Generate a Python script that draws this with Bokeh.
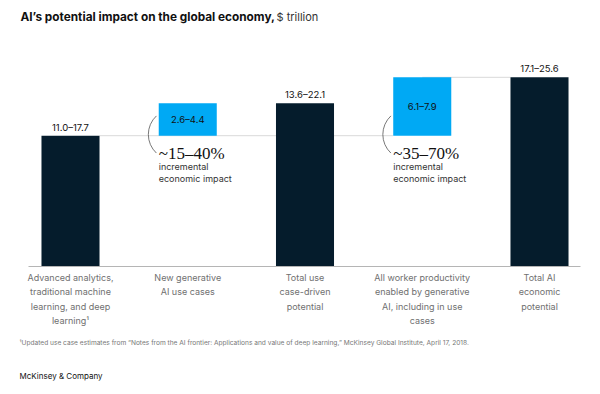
from bokeh.plotting import figure
from bokeh.models import Range1d
from bokeh.core.properties import value
from bokeh.embed import file_html
from bokeh.resources import INLINE

# ---- data ----
categories = ["Advanced analytics,\ntraditional machine\nlearning, and deep\nlearning¹",
              "New generative\nAI use cases",
              "Total use\ncase-driven\npotential",
              "All worker productivity\nenabled by generative\nAI, including in use\ncases",
              "Total AI\neconomic\npotential"]
low = [11.0, 2.6, 13.6, 6.1, 17.1]
high = [17.7, 4.4, 22.1, 7.9, 25.6]
bottoms = [0, 17.7, 0, 17.7, 0]
kinds = ["total", "increment", "total", "increment", "total"]
impacts = ["~15–40%", "~35–70%"]
impact_bars = [1, 3]

DARK = "#051c2c"
BLUE = "#00a9f4"
SANS = "Inter"

# pixel <-> data helpers (target picture pixel coordinates)
def xd(px):
    return (px - 70) / 117.25

def yd(py):
    return (266 - py) / 7.39

p = figure(width=592, height=386, x_range=Range1d(xd(0), xd(592)),
           y_range=Range1d(yd(386), yd(0)), min_border=0,
           toolbar_location=None, output_backend="svg",
           x_axis_location=None, y_axis_location=None)
p.grid.visible = False
p.outline_line_color = None
p.background_fill_color = "white"

xs = list(range(len(categories)))
tops = [b + h for b, h in zip(bottoms, high)]
W = 0.495
colors = [DARK if k == "total" else BLUE for k in kinds]

# connector lines
seg_x0 = [xs[0] + W / 2, xs[3]]
seg_x1 = [xs[3] - W / 2, xs[4] - W / 2]
seg_y = [tops[0], tops[3]]
p.segment(x0=seg_x0, y0=seg_y, x1=seg_x1, y1=seg_y, line_color="#d9d9d9", line_width=1)

p.vbar(x=xs, bottom=bottoms, top=tops, width=W, fill_color=colors, line_color=None)

# baseline
p.segment(x0=[xd(28)], y0=[0], x1=[xd(580)], y1=[0], line_color="#b5b5b5", line_width=1)

# value labels
labels = [f"{l:.1f}–{h:.1f}" for l, h in zip(low, high)]
tx = [xs[i] for i in range(5) if kinds[i] == "total"]
ty = [tops[i] for i in range(5) if kinds[i] == "total"]
tl = [labels[i] for i in range(5) if kinds[i] == "total"]
p.text(x=tx, y=ty, text=tl, text_align="center", text_baseline="bottom", y_offset=-3,
       text_font=value(SANS), text_font_size="9.5px", text_color="#111111")
ix = [xs[i] for i in range(5) if kinds[i] != "total"]
iy = [(bottoms[i] + tops[i]) / 2 for i in range(5) if kinds[i] != "total"]
il = [labels[i] for i in range(5) if kinds[i] != "total"]
p.text(x=ix, y=iy, text=il, text_align="center", text_baseline="middle",
       text_font=value(SANS), text_font_size="9.5px", text_color="#111111")

# category labels
p.text(x=xs, y=[yd(271)] * 5, text=categories, text_align="center", text_baseline="top",
       text_font=value(SANS), text_font_size="9px", text_color="#707070", text_line_height=1.33)

# impact annotations
ax = [xs[i] - W / 2 for i in impact_bars]
p.text(x=ax, y=[yd(153)] * 2, text=impacts, text_align="left", text_baseline="middle",
       text_font=value("Liberation Serif"), text_font_size="17px", text_color="#111111")
p.text(x=ax, y=[yd(166)] * 2, text=["incremental"] * 2, text_align="left", text_baseline="middle",
       text_font=value(SANS), text_font_size="9px", text_color="#333333")
p.text(x=ax, y=[yd(178)] * 2, text=["economic impact"] * 2, text_align="left", text_baseline="middle",
       text_font=value(SANS), text_font_size="9px", text_color="#333333")
arc_cx = [a + 15 / 117.25 for a in ax]
p.arc(x=arc_cx, y=[yd(134)] * 2, radius=25.4, radius_units="screen",
      start_angle=2.32, end_angle=3.96, direction="anticlock",
      line_color="#555555", line_width=0.8)

# title
p.text(x=[xd(20)], y=[yd(16)], text=["AI’s potential impact on the global economy,"],
       text_align="left", text_baseline="middle", text_font=value(SANS),
       text_font_size="11.8px", text_font_style="bold", text_color="#111111")
p.text(x=[xd(276)], y=[yd(16)], text=["$ trillion"],
       text_align="left", text_baseline="middle", text_font=value(SANS),
       text_font_size="11px", text_color="#333333")

# footnote and source
p.text(x=[xd(19)], y=[yd(342)],
       text=["¹Updated use case estimates from “Notes from the AI frontier: Applications and value of deep learning,” McKinsey Global Institute, April 17, 2018."],
       text_align="left", text_baseline="middle", text_font=value(SANS),
       text_font_size="6.6px", text_color="#777777")
p.text(x=[xd(19)], y=[yd(375)], text=["McKinsey & Company"],
       text_align="left", text_baseline="middle", text_font=value(SANS),
       text_font_size="8px", text_color="#111111")

open("out.html", "w").write(file_html(p, INLINE))
